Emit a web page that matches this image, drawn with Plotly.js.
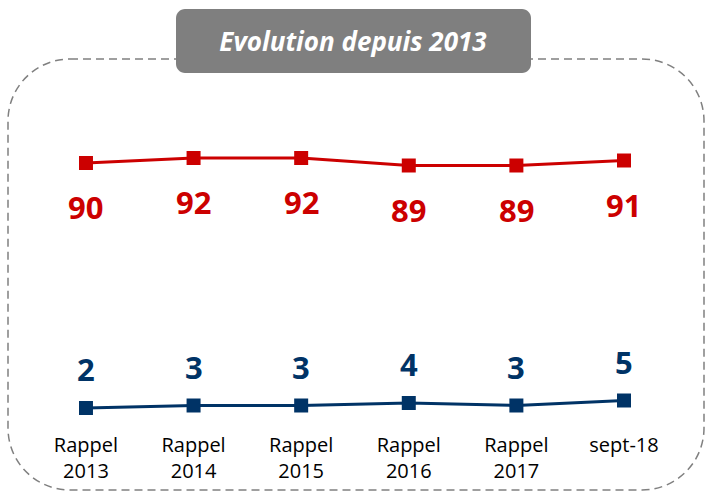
<!DOCTYPE html>
<html>
<head>
<meta charset="utf-8">
<script src="https://cdn.plot.ly/plotly-3.0.1.min.js"></script>
<style>html,body{margin:0;padding:0;background:#fff;}#chart{width:705px;height:493px;}</style>
</head>
<body>
<div id="chart"></div>
<script>
// ---- data ----
var categories = ["Rappel 2013", "Rappel 2014", "Rappel 2015", "Rappel 2016", "Rappel 2017", "sept-18"];
var tickLabels = ["Rappel<br>2013", "Rappel<br>2014", "Rappel<br>2015", "Rappel<br>2016", "Rappel<br>2017", "sept-18"];
var redValues = [90, 92, 92, 89, 89, 91];
var blueValues = [2, 3, 3, 4, 3, 5];
var titleText = "Evolution depuis 2013";

// ---- layout helpers ----
var W = 705, H = 493, MB = 68;
var PH = H - MB; // plot height
function px(x) { return x / W; }
function py(y) { return 1 - y / PH; }

function roundRectPath(x0, y0, x1, y1, r) {
  var k = 0.5523 * r;
  var p = [];
  function P(x, y) { return px(x) + "," + py(y); }
  p.push("M" + P(x0 + r, y0));
  p.push("L" + P(x1 - r, y0));
  p.push("C" + P(x1 - r + k, y0) + " " + P(x1, y0 + r - k) + " " + P(x1, y0 + r));
  p.push("L" + P(x1, y1 - r));
  p.push("C" + P(x1, y1 - r + k) + " " + P(x1 - r + k, y1) + " " + P(x1 - r, y1));
  p.push("L" + P(x0 + r, y1));
  p.push("C" + P(x0 + r - k, y1) + " " + P(x0, y1 - r + k) + " " + P(x0, y1 - r));
  p.push("L" + P(x0, y0 + r));
  p.push("C" + P(x0, y0 + r - k) + " " + P(x0 + r - k, y0) + " " + P(x0 + r, y0));
  p.push("Z");
  return p.join(" ");
}

var RED = "#CC0000", BLUE = "#003366";

var traces = [
  {
    x: categories, y: redValues, type: "scatter", mode: "lines+markers",
    line: {color: RED, width: 3}, marker: {symbol: "square", size: 14, color: RED},
    yaxis: "y", hoverinfo: "skip", cliponaxis: false
  },
  {
    x: categories, y: blueValues, type: "scatter", mode: "lines+markers",
    line: {color: BLUE, width: 3}, marker: {symbol: "square", size: 14, color: BLUE},
    yaxis: "y2", hoverinfo: "skip", cliponaxis: false
  }
];

var annotations = [];
categories.forEach(function (c, i) {
  annotations.push({
    x: c, y: redValues[i], xref: "x", yref: "y", text: String(redValues[i]),
    showarrow: false, yshift: -44, yanchor: "middle",
    font: {family: "Open Sans", size: 31, color: RED, weight: 700}
  });
  annotations.push({
    x: c, y: blueValues[i], xref: "x", yref: "y2", text: String(blueValues[i]),
    showarrow: false, yshift: 39, yanchor: "middle",
    font: {family: "Open Sans", size: 31, color: BLUE, weight: 700}
  });
});

var layout = {
  width: W, height: H,
  margin: {l: 0, r: 0, t: 0, b: MB, pad: 0},
  paper_bgcolor: "#ffffff", plot_bgcolor: "rgba(0,0,0,0)",
  showlegend: false,
  title: {
    text: "<b><i>" + titleText + "</i></b>",
    font: {family: "Open Sans", size: 26, color: "#ffffff"},
    xref: "paper", x: 353 / W, xanchor: "center",
    yref: "container", y: 1 - 42 / H, yanchor: "middle"
  },
  xaxis: {
    type: "category", range: [-0.799, 5.753],
    tickmode: "array", tickvals: categories, ticktext: tickLabels,
    showgrid: false, zeroline: false, showline: false, ticks: "",
    ticklabelstandoff: 6,
    tickfont: {family: "Open Sans", size: 20, color: "#000000"},
    fixedrange: true
  },
  yaxis: {range: [-14.8, 155.2], visible: false, showgrid: false, zeroline: false, fixedrange: true},
  yaxis2: {range: [-4.8, 165.2], overlaying: "y", visible: false, showgrid: false, zeroline: false, fixedrange: true},
  shapes: [
    {
      type: "path", xref: "paper", yref: "paper", layer: "below",
      path: roundRectPath(8, 59, 704, 490, 62),
      line: {color: "#808080", width: 1.5, dash: "8px,5px"}, fillcolor: "rgba(0,0,0,0)"
    },
    {
      type: "path", xref: "paper", yref: "paper", layer: "below",
      path: roundRectPath(176, 9, 531, 73, 9),
      line: {width: 0}, fillcolor: "#7f7f7f"
    }
  ],
  annotations: annotations,
  hovermode: false
};

Plotly.newPlot("chart", traces, layout, {displayModeBar: false, staticPlot: true});
</script>
</body>
</html>
